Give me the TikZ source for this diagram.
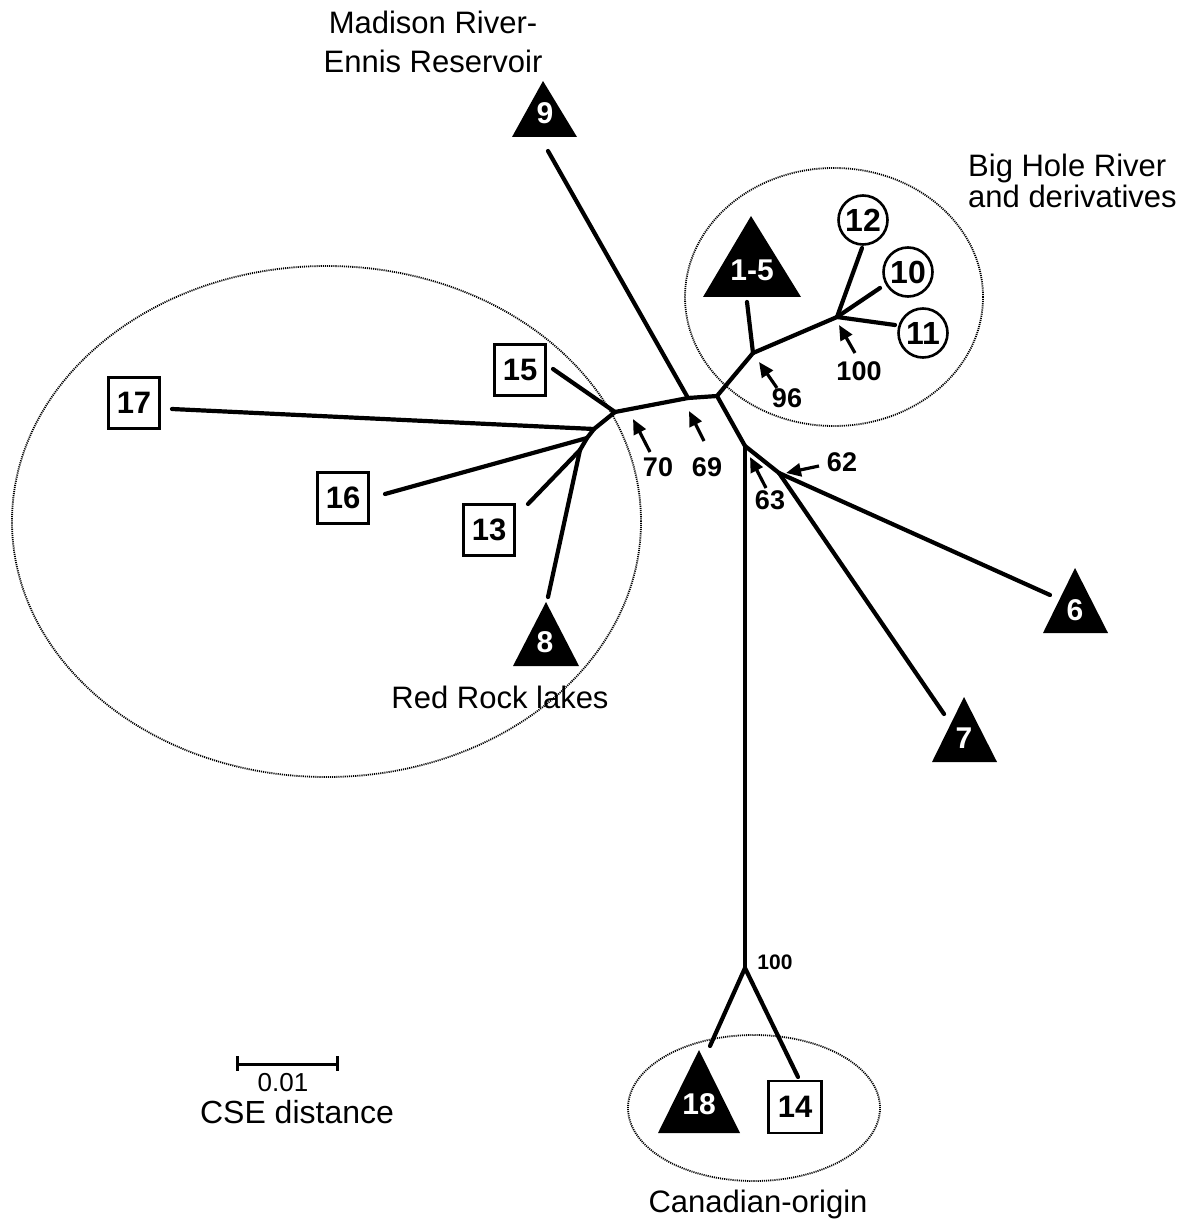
\documentclass[tikz,border=0pt]{standalone}
\usepackage{fontspec}
\setmainfont{Liberation Sans}
\usetikzlibrary{arrows.meta}
\begin{document}
\begin{tikzpicture}[x=1pt,y=-1pt,
 br/.style={line width=4.2pt, line cap=round, line join=round},
 sqbox/.style={draw, line width=2.8pt, minimum width=51pt, minimum height=51pt, inner sep=0pt, font=\fontsize{31}{31}\selectfont\bfseries},
 circbox/.style={draw, circle, line width=2.6pt, minimum size=49pt, inner sep=0pt, font=\fontsize{32}{32}\selectfont\bfseries},
 trilabel/.style={text=white, inner sep=0pt, font=\fontsize{30}{30}\selectfont\bfseries},
 boot/.style={inner sep=0pt, font=\fontsize{27}{27}\selectfont\bfseries},
 arr/.style={line width=3.2pt, -{Triangle[length=15pt,width=13pt]}},
 grp/.style={inner sep=0pt, font=\fontsize{31}{31}\selectfont},
 ell/.style={line width=1.8pt, dash pattern=on 1.1pt off 1.0pt}
]
\useasboundingbox (0,0) rectangle (1190,1230);

% group ellipses
\draw[ell] (326.5,521.5) ellipse [x radius=314.5pt, y radius=255.5pt];
\draw[ell] (834,297) ellipse [x radius=149pt, y radius=129pt];
\draw[ell] (754,1108) ellipse [x radius=126pt, y radius=73pt];

% internal nodes
\coordinate (A) at (717,396);
\coordinate (B) at (688,398);
\coordinate (C) at (615,412);
\coordinate (D) at (753,353);
\coordinate (E) at (745,446);
\coordinate (F) at (779,473);
\coordinate (G) at (594,429);
\coordinate (G2) at (587,438);
\coordinate (H) at (580,450);
\coordinate (I) at (837,317);
\coordinate (J) at (745,968);

% leaf symbols
\fill (543,81) -- (577,137) -- (512,137) -- cycle;
\node[trilabel] (n9) at (545,113) {9};
\fill (751,216) -- (801,297) -- (703,297) -- cycle;
\node[trilabel] (n15) at (752,270) {1-5};
\fill (546,602) -- (579,666) -- (513,666) -- cycle;
\node[trilabel] (n8) at (545,642) {8};
\fill (1075,568) -- (1108,633) -- (1043,633) -- cycle;
\node[trilabel] (n6) at (1075,610) {6};
\fill (964,697) -- (997,762) -- (932,762) -- cycle;
\node[trilabel] (n7) at (964,738) {7};
\fill (699,1050) -- (740,1133) -- (658,1133) -- cycle;
\node[trilabel] (n18) at (699,1104) {18};

\node[sqbox] (n17) at (134,403) {17};
\node[sqbox] (n16) at (343,498) {16};
\node[sqbox] (n15b) at (520,370) {15};
\node[sqbox] (n13) at (489,530) {13};
\node[sqbox, minimum width=53pt, minimum height=52pt] (n14) at (795,1107) {14};

\node[circbox] (n12) at (863,220) {12};
\node[circbox] (n10) at (908,272) {10};
\node[circbox] (n11) at (923,333) {11};

% branch end points
\coordinate (e9) at (548,151);
\coordinate (e15) at (747,302);
\coordinate (e8) at (548,597);
\coordinate (e6) at (1050,595);
\coordinate (e7) at (944,714);
\coordinate (e18) at (710,1046);
\coordinate (e17) at (172,409);
\coordinate (e16) at (385,494);
\coordinate (e15b) at (553,369);
\coordinate (e13) at (528,504);
\coordinate (e14) at (798,1077);
\coordinate (e12) at (862,248);
\coordinate (e10) at (880,288);
\coordinate (e11) at (895,325);

% tree
\draw[br] (e9) -- (B);
\draw[br] (C) -- (B) -- (A) -- (D);
\draw[br] (A) -- (E) -- (F);
\draw[br] (F) -- (e6);
\draw[br] (F) -- (e7);
\draw[br] (E) -- (J);
\draw[br] (J) -- (e18);
\draw[br] (J) -- (e14);
\draw[br] (D) -- (e15);
\draw[br] (D) -- (I);
\draw[br] (I) -- (e12);
\draw[br] (I) -- (e10);
\draw[br] (I) -- (e11);
\draw[br] (C) -- (e15b);
\draw[br] (C) -- (G) -- (G2) -- (H);
\draw[br] (G) -- (e17);
\draw[br] (G2) -- (e16);
\draw[br] (H) -- (e13);
\draw[br] (H) -- (e8);

% bootstrap arrows
\coordinate (a70s) at (650,452); \coordinate (a70e) at (633,419);
\coordinate (a69s) at (704,441); \coordinate (a69e) at (689,411);
\coordinate (a96s) at (777,388); \coordinate (a96e) at (759,362);
\coordinate (a100s) at (855,353); \coordinate (a100e) at (839,325);
\coordinate (a63s) at (766,488); \coordinate (a63e) at (750,457);
\coordinate (a62s) at (819,466); \coordinate (a62e) at (786,473);
\draw[arr] (a70s) -- (a70e);
\draw[arr] (a69s) -- (a69e);
\draw[arr] (a96s) -- (a96e);
\draw[arr] (a100s) -- (a100e);
\draw[arr] (a63s) -- (a63e);
\draw[arr] (a62s) -- (a62e);
\node[boot] (b70) at (658,467) {70};
\node[boot] (b69) at (707,467) {69};
\node[boot] (b96) at (787,398) {96};
\node[boot] (b100) at (859,371) {100};
\node[boot] (b63) at (770,500) {63};
\node[boot] (b62) at (842,462) {62};
\node[inner sep=0pt, font=\fontsize{21}{21}\selectfont\bfseries] (b100b) at (775,962) {100};

% group labels
\node[grp, align=center] (madison) at (433,42) {Madison River-\\[8pt]Ennis Reservoir};
\node[grp, align=left, anchor=west] (bighole) at (968,181) {Big Hole River\\and derivatives};
\node[grp, anchor=base] (redrock) at (500,708) {Red Rock lakes};
\node[grp, anchor=base] (canada) at (758,1212) {Canadian-origin};

% scale bar
\coordinate (s1) at (237,1064);
\coordinate (s2) at (337,1064);
\draw[line width=3pt] (s1) -- (s2);
\draw[line width=3pt] (237,1056) -- (237,1071);
\draw[line width=3pt] (337,1056) -- (337,1071);
\node[inner sep=0pt, anchor=base, font=\fontsize{26}{26}\selectfont] (sc1) at (283,1091) {0.01};
\node[inner sep=0pt, anchor=base, font=\fontsize{32}{32}\selectfont] (sc2) at (297,1123) {CSE distance};
\end{tikzpicture}
\end{document}
